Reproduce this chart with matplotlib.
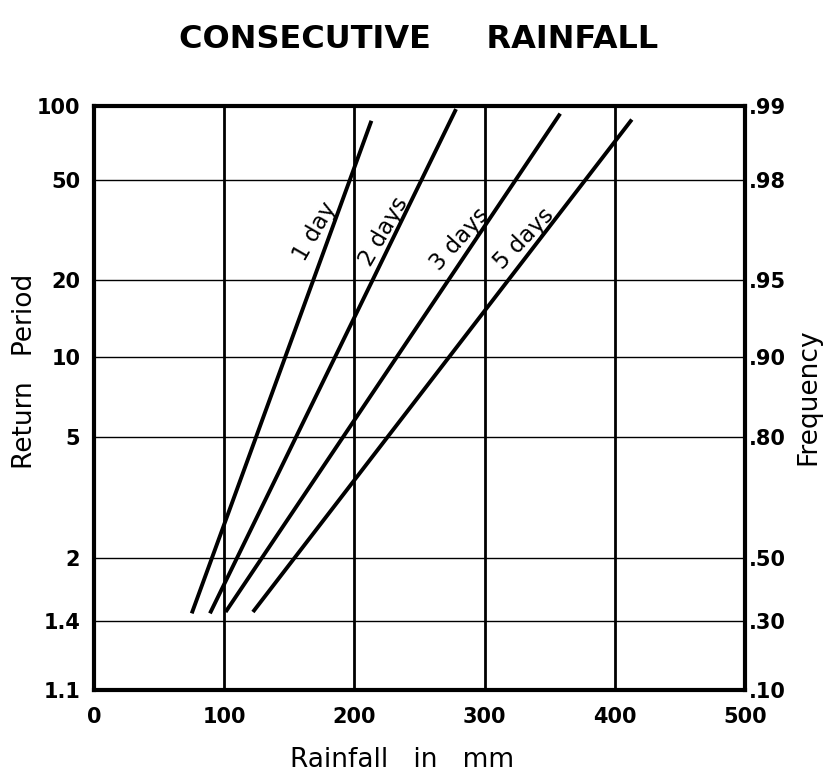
import numpy as np
import matplotlib
matplotlib.use('Agg')
from matplotlib import pyplot as plt

# rainfall (mm) read at the two ends of each duration line
durations = ['1 day', '2 days', '3 days', '5 days']
rain_low = [75, 89, 101, 122]
rain_high = [213, 278, 358, 413]
period_low = [1.45, 1.45, 1.46, 1.46]
period_high = [87, 97, 93, 88]

period_ticks = [1.1, 1.4, 2, 5, 10, 20, 50, 100]
period_labels = ['1.1', '1.4', '2', '5', '10', '20', '50', '100']
freq_labels = ['.10', '.30', '.50', '.80', '.90', '.95', '.98', '.99']
rain_ticks = [0, 100, 200, 300, 400, 500]


# Gumbel probability paper: reduced variate of the return period
def gumbel(t):
    t = np.asarray(t, dtype=float)
    with np.errstate(all='ignore'):
        return -np.log(-np.log(1 - 1 / t))


def gumbel_inv(y):
    y = np.asarray(y, dtype=float)
    with np.errstate(all='ignore'):
        return 1 / (1 - np.exp(-np.exp(-y)))


plt.rcParams['font.family'] = 'DejaVu Sans'

fig = plt.figure(figsize=(8.4, 7.84), dpi=100)
ax = fig.add_axes([0.112, 0.12, 0.775, 0.745])

ax.set_yscale('function', functions=(gumbel, gumbel_inv))
ax.set_xlim(0, 500)
ax.set_ylim(1.1, 100)

for x in rain_ticks[1:-1]:
    ax.axvline(x, color='black', lw=2)
for t in period_ticks[1:-1]:
    ax.axhline(t, color='black', lw=1)

for i in range(len(durations)):
    ax.plot([rain_low[i], rain_high[i]], [period_low[i], period_high[i]],
            color='black', lw=2.8, solid_capstyle='butt')

# line labels (rain, return period, angle)
label_pos = [(170, 31, 60), (223, 31, 60), (281, 29, 48), (330, 29, 46)]
for name, (x, t, ang) in zip(durations, label_pos):
    ax.text(x, t, name, rotation=ang, rotation_mode='anchor',
            ha='center', va='center', fontsize=16.5)

for s in ax.spines.values():
    s.set_linewidth(3)

ax.set_xticks(rain_ticks)
ax.set_xticklabels([str(v) for v in rain_ticks], fontsize=15, fontweight='bold')
ax.set_yticks(period_ticks)
ax.set_yticklabels(period_labels, fontsize=15, fontweight='bold')
ax.tick_params(axis='x', length=0, pad=12)
ax.tick_params(axis='y', length=0, pad=10)
ax.minorticks_off()

ax2 = ax.twinx()
ax2.set_yscale('function', functions=(gumbel, gumbel_inv))
ax2.set_ylim(1.1, 100)
ax2.set_yticks(period_ticks)
ax2.set_yticklabels(freq_labels, fontsize=15, fontweight='bold')
ax2.tick_params(axis='y', length=0, pad=3)
ax2.minorticks_off()
for s in ax2.spines.values():
    s.set_visible(False)

fig.text(0.498, 0.949, 'CONSECUTIVE     RAINFALL', ha='center', va='center',
         fontsize=23, fontweight='bold')
fig.text(0.479, 0.031, 'Rainfall   in   mm', ha='center', va='center', fontsize=19)
fig.text(0.030, 0.526, 'Return   Period', ha='center', va='center',
         rotation=90, fontsize=19)
fig.text(0.962, 0.494, 'Frequency', ha='center', va='center',
         rotation=90, fontsize=19)

fig.savefig('out.png', dpi=100, facecolor='white')
